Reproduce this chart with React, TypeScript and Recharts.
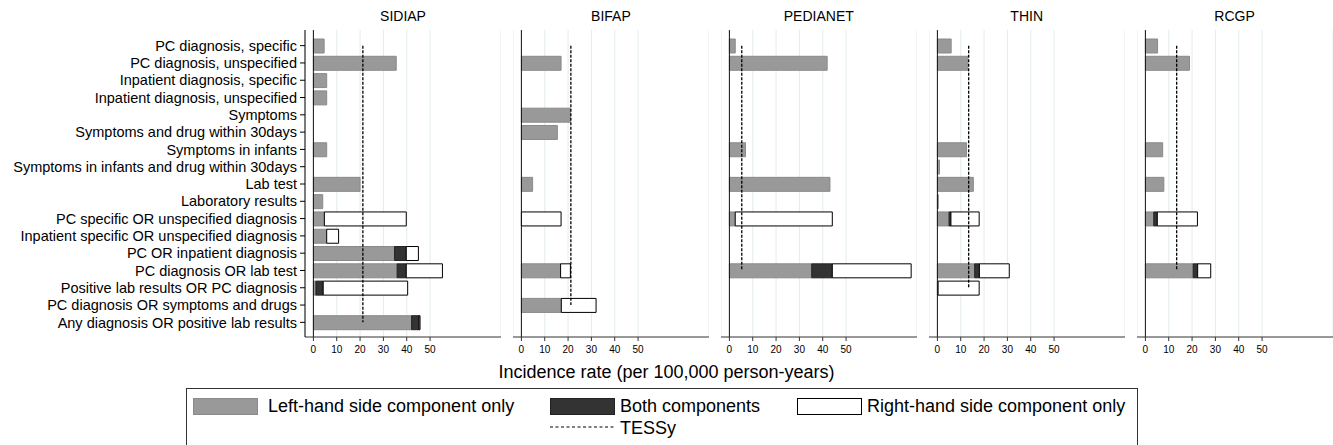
import { BarChart, Bar, XAxis, YAxis, CartesianGrid, ReferenceLine } from "recharts";

const categories = [
  "PC diagnosis, specific",
  "PC diagnosis, unspecified",
  "Inpatient diagnosis, specific",
  "Inpatient diagnosis, unspecified",
  "Symptoms",
  "Symptoms and drug within 30days",
  "Symptoms in infants",
  "Symptoms in infants and drug within 30days",
  "Lab test",
  "Laboratory results",
  "PC specific OR unspecified diagnosis",
  "Inpatient specific OR unspecified diagnosis",
  "PC OR inpatient diagnosis",
  "PC diagnosis OR lab test",
  "Positive lab results OR PC diagnosis",
  "PC diagnosis OR symptoms and drugs",
  "Any diagnosis OR positive lab results",
];

const xTicks = [0, 10, 20, 30, 40, 50];

// left-hand only / both / right-hand only, one value per category
const sidiapLeft = [4.6, 35.5, 5.7, 5.7, 0, 0, 5.7, 0, 20.0, 4.0, 4.7, 5.7, 34.8, 35.9, 1.1, 0, 42.1];
const sidiapBoth = [0, 0, 0, 0, 0, 0, 0, 0, 0, 0, 0, 0, 5.0, 3.9, 3.1, 0, 3.2];
const sidiapRight = [0, 0, 0, 0, 0, 0, 0, 0, 0, 0, 35.1, 5.1, 5.2, 15.5, 36.2, 0, 0.4];

const bifapLeft = [0, 17.0, 0, 0, 21.0, 15.4, 0, 0, 4.8, 0, 0, 0, 0, 16.8, 0, 17.1, 0];
const bifapBoth = [0, 0, 0, 0, 0, 0, 0, 0, 0, 0, 0, 0, 0, 0, 0, 0, 0];
const bifapRight = [0, 0, 0, 0, 0, 0, 0, 0, 0, 0, 17.0, 0, 0, 4.2, 0, 14.9, 0];

const pedianetLeft = [2.5, 41.9, 0, 0, 0, 0, 6.9, 0, 43.1, 0, 2.5, 0, 0, 35.3, 0, 0, 0];
const pedianetBoth = [0, 0, 0, 0, 0, 0, 0, 0, 0, 0, 0, 0, 0, 8.8, 0, 0, 0];
const pedianetRight = [0, 0, 0, 0, 0, 0, 0, 0, 0, 0, 41.6, 0, 0, 33.8, 0, 0, 0];

const thinLeft = [5.9, 13.0, 0, 0, 0, 0, 12.5, 0.9, 15.4, 0.4, 5.0, 0, 0, 16.0, 0.3, 0, 0];
const thinBoth = [0, 0, 0, 0, 0, 0, 0, 0, 0, 0, 0.8, 0, 0, 2.0, 0, 0, 0];
const thinRight = [0, 0, 0, 0, 0, 0, 0, 0, 0, 0, 12.1, 0, 0, 12.8, 17.6, 0, 0];

const rcgpLeft = [5.2, 18.9, 0, 0, 0, 0, 7.4, 0, 7.9, 0, 3.6, 0, 0, 20.5, 0, 0, 0];
const rcgpBoth = [0, 0, 0, 0, 0, 0, 0, 0, 0, 0, 1.5, 0, 0, 1.9, 0, 0, 0];
const rcgpRight = [0, 0, 0, 0, 0, 0, 0, 0, 0, 0, 17.2, 0, 0, 5.6, 0, 0, 0];

const panelNames = ["SIDIAP", "BIFAP", "PEDIANET", "THIN", "RCGP"];
const tessy = [21.2, 21.2, 5.3, 13.4, 13.4];
// last category the TESSy line reaches in each panel
const tessyEnd = [16, 15, 13, 14, 13];

const panelSeries = [
  [sidiapLeft, sidiapBoth, sidiapRight],
  [bifapLeft, bifapBoth, bifapRight],
  [pedianetLeft, pedianetBoth, pedianetRight],
  [thinLeft, thinBoth, thinRight],
  [rcgpLeft, rcgpBoth, rcgpRight],
];

const FONT = '"Liberation Sans", Arial, sans-serif';
const PLOT_W = 196;
const LABEL_W = 305;
const PANEL_STEP = 207.9;
const CHART_H = 360;

function Panel({ idx }: { idx: number }) {
  const [l, b, r] = panelSeries[idx];
  const data = categories.map((cat, i) => ({ cat, left: l[i], both: b[i], right: r[i] }));
  const first = idx === 0;
  const left = first ? 0 : LABEL_W + PANEL_STEP * idx;
  const width = first ? LABEL_W + PLOT_W : PLOT_W;
  return (
    <div style={{ position: "absolute", left, top: 0 }}>
      <BarChart
        layout="vertical"
        width={width}
        height={CHART_H}
        data={data}
        margin={{ top: 30, right: 0, bottom: 3, left: 0 }}
        barSize={14}
      >
        <CartesianGrid horizontal={false} stroke="#e2ecee" />
        <XAxis
          type="number"
          domain={[-3.6, 80.4]}
          allowDataOverflow
          ticks={xTicks}
          interval={0}
          height={20}
          tickSize={4}
          tickMargin={5}
          axisLine={{ stroke: "#333" }}
          tickLine={{ stroke: "#333" }}
          tick={{ fontSize: 10, fill: "#000", fontFamily: FONT }}
        />
        <YAxis
          type="category"
          dataKey="cat"
          hide={!first}
          width={LABEL_W}
          interval={0}
          padding={{ top: 7, bottom: 6 }}
          tickSize={5}
          tickMargin={3}
          axisLine={{ stroke: "#000" }}
          tickLine={{ stroke: "#000" }}
          tick={{ fontSize: 14.5, fill: "#000", fontFamily: FONT }}
        />
        <ReferenceLine x={0} stroke="#111" />
        <Bar dataKey="left" stackId="a" fill="#999999" stroke="#8a8a8a" isAnimationActive={false} />
        <Bar dataKey="both" stackId="a" fill="#333333" stroke="#222" isAnimationActive={false} />
        <Bar dataKey="right" stackId="a" fill="#ffffff" stroke="#000" isAnimationActive={false} />
        <ReferenceLine
          segment={[
            { x: tessy[idx], y: categories[0] },
            { x: tessy[idx], y: categories[tessyEnd[idx]] },
          ]}
          stroke="#000"
          strokeWidth={1.3}
          strokeDasharray="3 1.5"
          ifOverflow="visible"
        />
      </BarChart>
      <div
        style={{
          position: "absolute",
          left: (first ? LABEL_W : 0),
          width: PLOT_W,
          top: 7,
          textAlign: "center",
          fontFamily: FONT,
          fontSize: 14,
          lineHeight: "18px",
        }}
      >
        {panelNames[idx]}
      </div>
    </div>
  );
}

function Swatch({ fill, stroke }: { fill: string; stroke: string }) {
  return (
    <svg width={65} height={17} style={{ display: "block" }}>
      <rect x={0.5} y={0.5} width={64} height={16} fill={fill} stroke={stroke} />
    </svg>
  );
}

export default function App() {
  const legendText = { position: "absolute" as const, fontSize: 18, lineHeight: "20px", whiteSpace: "nowrap" as const };
  return (
    <div style={{ position: "absolute", left: 0, top: 0, width: 1333, height: 445, overflow: "hidden", background: "#fff", fontFamily: FONT }}>
      {panelNames.map((_, i) => (
        <Panel key={i} idx={i} />
      ))}
      <div style={{ position: "absolute", left: 0, width: 1333, top: 361, textAlign: "center", fontSize: 18, lineHeight: "22px" }}>
        Incidence rate (per 100,000 person-years)
      </div>
      <div style={{ position: "absolute", left: 186, top: 388, width: 950, height: 80, border: "1px solid #333" }}>
        <div style={{ position: "absolute", left: 6, top: 9 }}>
          <Swatch fill="#999999" stroke="#8a8a8a" />
        </div>
        <div style={{ ...legendText, left: 81, top: 7 }}>Left-hand side component only</div>
        <div style={{ position: "absolute", left: 363, top: 9 }}>
          <Swatch fill="#333333" stroke="#222" />
        </div>
        <div style={{ ...legendText, left: 433, top: 7 }}>Both components</div>
        <div style={{ position: "absolute", left: 610, top: 9 }}>
          <Swatch fill="#ffffff" stroke="#000" />
        </div>
        <div style={{ ...legendText, left: 680, top: 7 }}>Right-hand side component only</div>
        <svg width={65} height={4} style={{ position: "absolute", left: 363, top: 36 }}>
          <line x1={0} y1={2} x2={64} y2={2} stroke="#000" strokeWidth={1.2} strokeDasharray="3 2.5" />
        </svg>
        <div style={{ ...legendText, left: 433, top: 29 }}>TESSy</div>
      </div>
    </div>
  );
}
